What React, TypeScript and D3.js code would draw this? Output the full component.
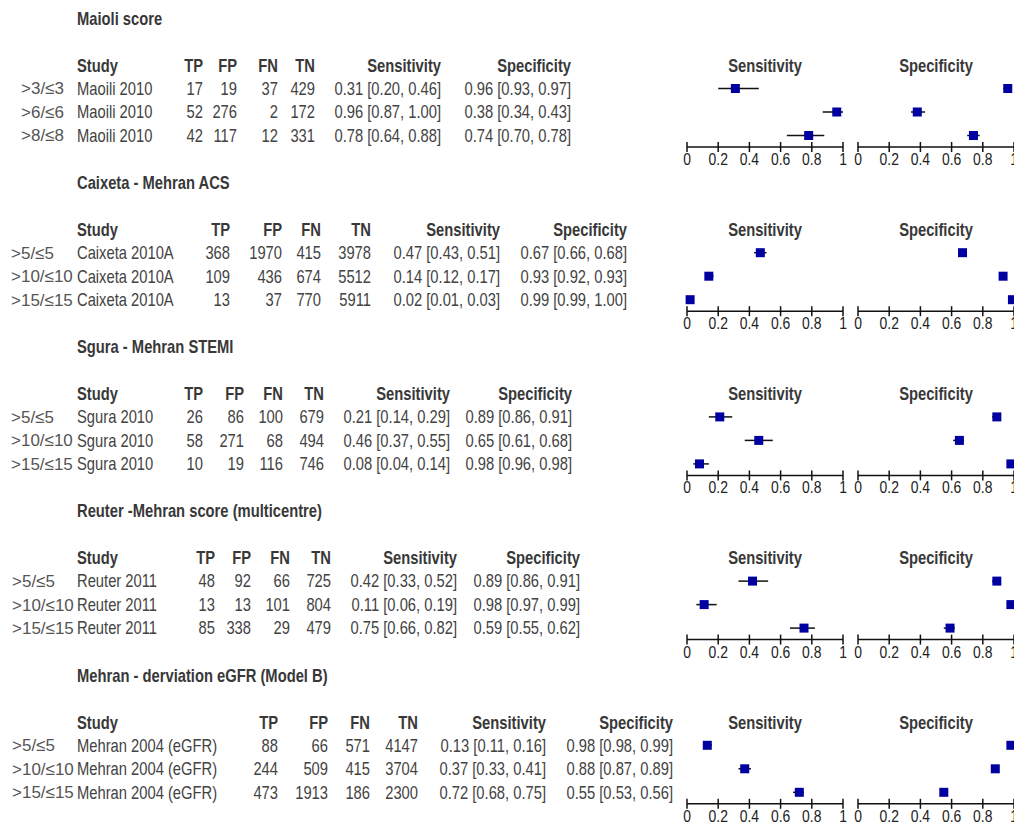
import React from "react";
import * as d3 from "d3";

// forest plot data, one entry per panel
const panelTitles = [
  "Maioli score",
  "Caixeta - Mehran ACS",
  "Sgura - Mehran STEMI",
  "Reuter -Mehran score (multicentre)",
  "Mehran - derviation eGFR (Model B)",
];
const thresholds = [
  [">3/≤3", ">6/≤6", ">8/≤8"],
  [">5/≤5", ">10/≤10", ">15/≤15"],
  [">5/≤5", ">10/≤10", ">15/≤15"],
  [">5/≤5", ">10/≤10", ">15/≤15"],
  [">5/≤5", ">10/≤10", ">15/≤15"],
];
const studies = ["Maoili 2010", "Caixeta 2010A", "Sgura 2010", "Reuter 2011", "Mehran 2004 (eGFR)"];
const tp = [[17, 52, 42], [368, 109, 13], [26, 58, 10], [48, 13, 85], [88, 244, 473]];
const fp = [[19, 276, 117], [1970, 436, 37], [86, 271, 19], [92, 13, 338], [66, 509, 1913]];
const fn = [[37, 2, 12], [415, 674, 770], [100, 68, 116], [66, 101, 29], [571, 415, 186]];
const tn = [[429, 172, 331], [3978, 5512, 5911], [679, 494, 746], [725, 804, 479], [4147, 3704, 2300]];
const sens = [[0.31, 0.96, 0.78], [0.47, 0.14, 0.02], [0.21, 0.46, 0.08], [0.42, 0.11, 0.75], [0.13, 0.37, 0.72]];
const sensLo = [[0.2, 0.87, 0.64], [0.43, 0.12, 0.01], [0.14, 0.37, 0.04], [0.33, 0.06, 0.66], [0.11, 0.33, 0.68]];
const sensHi = [[0.46, 1.0, 0.88], [0.51, 0.17, 0.03], [0.29, 0.55, 0.14], [0.52, 0.19, 0.82], [0.16, 0.41, 0.75]];
const spec = [[0.96, 0.38, 0.74], [0.67, 0.93, 0.99], [0.89, 0.65, 0.98], [0.89, 0.98, 0.59], [0.98, 0.88, 0.55]];
const specLo = [[0.93, 0.34, 0.7], [0.66, 0.92, 0.99], [0.86, 0.61, 0.96], [0.86, 0.97, 0.55], [0.98, 0.87, 0.53]];
const specHi = [[0.97, 0.43, 0.78], [0.68, 0.93, 1.0], [0.91, 0.68, 0.98], [0.91, 0.99, 0.62], [0.99, 0.89, 0.56]];
const axisTicks = [0, 0.2, 0.4, 0.6, 0.8, 1];

// table column positions (left edge of threshold / study, right edges of the rest)
const colLayout = [
  { thr: 21, study: 77, tp: 203, fp: 237, fn: 278, tn: 315, sens: 441, spec: 571 },
  { thr: 11, study: 77, tp: 230, fp: 282, fn: 321, tn: 371, sens: 500, spec: 627 },
  { thr: 11, study: 77, tp: 203, fp: 244, fn: 283, tn: 324, sens: 450, spec: 572 },
  { thr: 12, study: 77, tp: 215, fp: 251, fn: 290, tn: 331, sens: 457, spec: 580 },
  { thr: 12, study: 77, tp: 278, fp: 328, fn: 370, tn: 418, sens: 546, spec: 673 },
];

const W = 1014, H = 825;
const sans = "'Liberation Sans', Arial, sans-serif";
const textCol = "#434343";
const headCol = "#383838";
const boxCol = "#0000a0";
const squeeze = 0.82; // fake Arial Narrow by compressing Liberation Sans

const f2 = d3.format(".2f");
const ci = (v: number, lo: number, hi: number) => `${f2(v)} [${f2(lo)}, ${f2(hi)}]`;

const xSens = d3.scaleLinear().domain([0, 1]).range([687, 843]);
const xSpec = d3.scaleLinear().domain([0, 1]).range([858, 1014]);

type NProps = {
  x: number;
  y: number;
  anchor?: "start" | "middle" | "end";
  bold?: boolean;
  size?: number;
  fill?: string;
  children: React.ReactNode;
};

function NText({ x, y, anchor = "start", bold = false, size = 18, fill = textCol, children }: NProps) {
  return (
    <g transform={`translate(${x},${y}) scale(${squeeze},1)`}>
      <text
        dy="0.35em"
        textAnchor={anchor}
        fontFamily={sans}
        fontSize={size}
        fontWeight={bold ? 700 : 400}
        fill={fill}
      >
        {children}
      </text>
    </g>
  );
}

function Axis({ x, y }: { x: d3.ScaleLinear<number, number>; y: number }) {
  const [x0, x1] = x.range();
  return (
    <g>
      <line x1={x0} x2={x1} y1={y} y2={y} stroke="#111" strokeWidth={1.5} />
      {axisTicks.map((t) => (
        <g key={t}>
          <line x1={x(t)} x2={x(t)} y1={y - 5} y2={y + 5} stroke="#111" strokeWidth={1.5} />
          <NText x={x(t)} y={y + 12} anchor="middle" size={17} fill="#222">
            {String(t)}
          </NText>
        </g>
      ))}
    </g>
  );
}

function Panel({ p }: { p: number }) {
  const headY = 65.5 + p * 164.2;
  const rowY = d3.scaleLinear().domain([0, 1]).range([headY + 23, headY + 46.5]);
  const c = colLayout[p];
  const axisY = headY + 81.5;
  const nums = [tp[p], fp[p], fn[p], tn[p]];
  const numCols = [c.tp, c.fp, c.fn, c.tn];
  const numHeads = ["TP", "FP", "FN", "TN"];

  return (
    <g>
      <NText x={c.study} y={headY - 47} bold fill={headCol}>{panelTitles[p]}</NText>
      <NText x={c.study} y={headY} bold fill={headCol}>Study</NText>
      {numHeads.map((h, k) => (
        <NText key={h} x={numCols[k]} y={headY} anchor="end" bold fill={headCol}>{h}</NText>
      ))}
      <NText x={c.sens} y={headY} anchor="end" bold fill={headCol}>Sensitivity</NText>
      <NText x={c.spec} y={headY} anchor="end" bold fill={headCol}>Specificity</NText>

      {thresholds[p].map((thr, r) => (
        <g key={r}>
          <text x={c.thr} y={rowY(r)} dy="0.35em" fontFamily={sans} fontSize={17} fill="#555">{thr}</text>
          <NText x={c.study} y={rowY(r)}>{studies[p]}</NText>
          {nums.map((arr, k) => (
            <NText key={k} x={numCols[k]} y={rowY(r)} anchor="end">{arr[r]}</NText>
          ))}
          <NText x={c.sens} y={rowY(r)} anchor="end">{ci(sens[p][r], sensLo[p][r], sensHi[p][r])}</NText>
          <NText x={c.spec} y={rowY(r)} anchor="end">{ci(spec[p][r], specLo[p][r], specHi[p][r])}</NText>
        </g>
      ))}

      {/* plot headers */}
      <NText x={d3.mean(xSens.range()) as number} y={headY} anchor="middle" bold fill={headCol}>Sensitivity</NText>
      <NText x={d3.mean(xSpec.range()) as number} y={headY} anchor="middle" bold fill={headCol}>Specificity</NText>

      {/* CI lines and boxes */}
      {[
        { x: xSens, v: sens[p], lo: sensLo[p], hi: sensHi[p] },
        { x: xSpec, v: spec[p], lo: specLo[p], hi: specHi[p] },
      ].map((s, k) => (
        <g key={k}>
          {s.v.map((v, r) => (
            <g key={r}>
              <line x1={s.x(s.lo[r])} x2={s.x(s.hi[r])} y1={rowY(r)} y2={rowY(r)} stroke="#111" strokeWidth={1.5} />
              <rect x={s.x(v) - 4.5} y={rowY(r) - 4.5} width={9} height={9} fill={boxCol} />
            </g>
          ))}
        </g>
      ))}

      <Axis x={xSens} y={axisY} />
      <Axis x={xSpec} y={axisY} />
    </g>
  );
}

export default function App() {
  return (
    <svg width={W} height={H} style={{ position: "absolute", left: 0, top: 0, background: "#fff" }}>
      <rect width={W} height={H} fill="#fff" />
      {panelTitles.map((_, p) => (
        <Panel key={p} p={p} />
      ))}
    </svg>
  );
}
